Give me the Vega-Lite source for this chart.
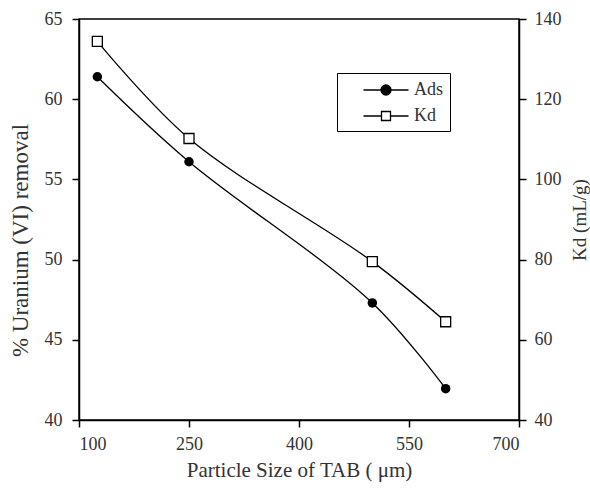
{
  "$schema": "https://vega.github.io/schema/vega-lite/v6.json",
  "autosize": "none",
  "width": 440,
  "height": 401,
  "padding": {"left": 79, "top": 19, "right": 71, "bottom": 74},
  "background": "white",
  "config": {
    "font": "Liberation Serif",
    "view": {"stroke": "black", "strokeWidth": 1.5},
    "axis": {
      "domainColor": "black", "domainWidth": 1.5, "tickColor": "black", "tickWidth": 1.5, "tickSize": 7,
      "grid": false, "labelFont": "Liberation Serif", "labelFontSize": 18, "labelColor": "#333",
      "titleFont": "Liberation Serif", "titleFontSize": 21, "titleFontWeight": "normal", "titleColor": "#333"
    }
  },
  "data": {"values": [
    {"size": 125, "ads": 61.4, "kd": 134.4},
    {"size": 250, "ads": 56.1, "kd": 110.2},
    {"size": 500, "ads": 47.3, "kd": 79.5},
    {"size": 600, "ads": 41.95, "kd": 64.5}
  ]},
  "encoding": {
    "x": {"field": "size", "type": "quantitative", "scale": {"domain": [100, 700], "nice": false},
      "axis": {"values": [100, 250, 400, 550, 700], "title": "Particle Size of TAB ( μm)", "labelPadding": 8, "titlePadding": 6}}
  },
  "layer": [
    {
      "layer": [
        {"mark": {"type": "line", "interpolate": "catmull-rom", "color": "black", "strokeWidth": 1.3}},
        {"mark": {"type": "point", "shape": "circle", "filled": true, "color": "black", "opacity": 1, "size": 90}},
        {"transform": [{"fold": ["ads", "kd"], "as": ["series", "val"]}],
         "mark": {"type": "point", "filled": false, "stroke": "black", "strokeWidth": 1.3, "size": 0, "opacity": 1},
         "encoding": {
           "shape": {"field": "series", "type": "nominal",
             "scale": {"domain": ["ads", "kd"], "range": [
               "M0.95,0L2.7,0M3.7,0L5.45,0M2.7,0A0.5,0.5,0,1,0,3.7,0A0.5,0.5,0,1,0,2.7,0Z",
               "M0.95,0L2.75,0M3.65,0L5.45,0M2.75,-0.45L3.65,-0.45L3.65,0.45L2.75,0.45Z"]},
             "legend": {
               "title": null, "orient": "none", "legendX": 258, "legendY": 54,
               "labelExpr": "datum.value == 'ads' ? 'Ads\u00a0\u00a0' : 'Kd'",
               "strokeColor": "black", "padding": 6, "labelFontSize": 18, "labelFont": "Liberation Serif", "labelColor": "#333",
               "symbolSize": 400, "symbolStrokeWidth": 1.3, "rowPadding": 6, "labelOffset": 49,
               "encode": {"symbols": {"stroke": {"value": "black"}, "strokeWidth": {"value": 1.3}}}
             }},
           "fill": {"field": "series", "type": "nominal",
             "scale": {"domain": ["ads", "kd"], "range": ["black", "white"]}, "legend": null}
         }
        }
      ],
      "encoding": {
        "y": {"field": "ads", "type": "quantitative", "scale": {"domain": [40, 65], "nice": false},
          "axis": {"values": [40, 45, 50, 55, 60, 65], "title": "% Uranium (VI) removal", "orient": "left", "labelPadding": 10, "titlePadding": 12, "titleFontSize": 23, "titleY": 221}}
      }
    },
    {
      "layer": [
        {"mark": {"type": "line", "interpolate": "catmull-rom", "color": "black", "strokeWidth": 1.3}},
        {"mark": {"type": "point", "shape": "square", "filled": true, "fill": "white", "stroke": "black", "strokeWidth": 1.3, "opacity": 1, "size": 100}}
      ],
      "encoding": {
        "y": {"field": "kd", "type": "quantitative", "scale": {"domain": [40, 140], "nice": false},
          "axis": {"values": [40, 60, 80, 100, 120, 140], "title": "Kd (mL/g)", "orient": "right", "titleAngle": 270, "titleBaseline": "top", "titleFontSize": 19, "labelPadding": 8, "titlePadding": 9}}
      }
    }
  ],
  "resolve": {"scale": {"y": "independent"}}
}
